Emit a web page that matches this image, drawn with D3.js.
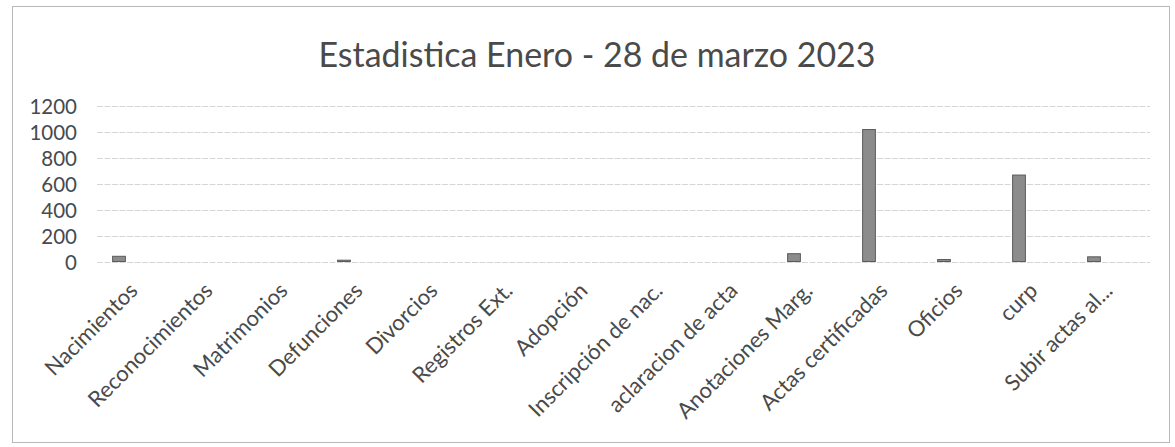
<!DOCTYPE html>
<html><head><meta charset="utf-8">
<script src="https://cdn.jsdelivr.net/npm/d3@7"></script>
<style>
html,body{margin:0;padding:0;background:#fff;}
text{font-family:Lato,"Open Sans",sans-serif;fill:#4a4a4a;}
</style></head>
<body><svg id="c" width="1175" height="447"></svg>
<script>
const categories = ["Nacimientos","Reconocimientos","Matrimonios","Defunciones","Divorcios","Registros Ext.","Adopción","Inscripción de nac.","aclaracion de acta","Anotaciones Marg.","Actas certificadas","Oficios","curp","Subir  actas al..."];
const values = [40,0,0,10,0,0,0,0,0,60,1015,15,665,36];
const yTicks = [0,200,400,600,800,1000,1200];
const title = "Estadistica Enero - 28 de marzo 2023";

const svg = d3.select("#c");
svg.append("rect").attr("x",12.5).attr("y",6.5).attr("width",1157).attr("height",436)
  .attr("fill","#fff").attr("stroke","#b8b8b8").attr("stroke-width",1);

const y = d3.scaleLinear().domain([0,1200]).range([262,106]);
const x = d3.scaleBand().domain(categories).range([81.5,1131.5]).paddingInner(0.83).paddingOuter(0.415);

// gridlines
const grid = svg.append("g").attr("transform","translate(97,0)")
  .call(d3.axisLeft(y).tickValues(yTicks).tickSize(-1053).tickFormat(""));
grid.select(".domain").remove();
grid.selectAll("line").attr("stroke","#d6d6d6").attr("stroke-width",1.2).attr("stroke-dasharray","6,1.5");

// y labels
const ya = svg.append("g").attr("transform","translate(77,0)")
  .call(d3.axisLeft(y).tickValues(yTicks).tickSize(0).tickPadding(0).tickFormat(d3.format("d")));
ya.select(".domain").remove();
ya.selectAll("text").attr("font-size",20.5).attr("fill","#404040").attr("dy","0.36em");

// bars
svg.append("g").selectAll("rect").data(values).join("rect")
  .attr("x",(d,i)=>x(categories[i]))
  .attr("y",d=>y(d)-0.5)
  .attr("width",x.bandwidth())
  .attr("height",d=>d>0?y(0)-y(d):0)
  .attr("fill","#8c8c8c").attr("stroke","#5a5a5a").attr("stroke-width",1);

// x labels
const xa = svg.append("g").attr("transform","translate(0,262)")
  .call(d3.axisBottom(x).tickSize(0).tickPadding(0));
xa.select(".domain").remove();
xa.selectAll("text").attr("font-size",22).attr("fill","#404040")
  .attr("text-anchor","end").attr("dy","0")
  .attr("transform","translate(20,30) rotate(-45)");

// title
const t = svg.append("text").attr("x",597).attr("y",67).attr("text-anchor","middle")
  .attr("font-size",30).attr("fill","#404040").text(title);
const w = t.node().getComputedTextLength();
t.attr("font-size",30*557/w);
</script></body></html>
